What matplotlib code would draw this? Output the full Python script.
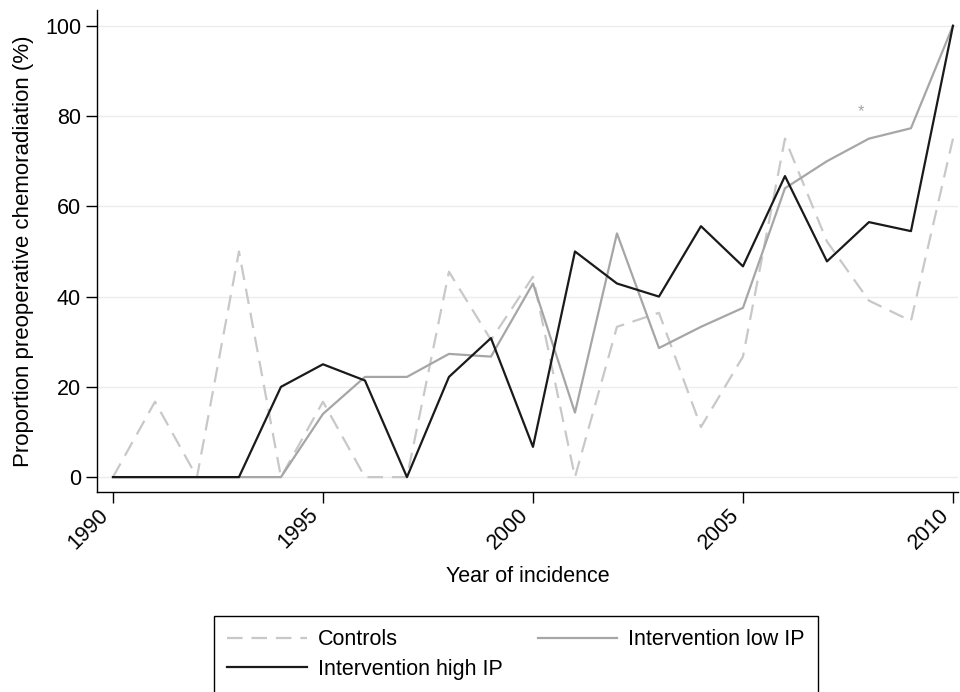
import matplotlib
matplotlib.use("Agg")
import matplotlib.pyplot as plt

plt.rcParams['font.family'] = ['Liberation Sans', 'DejaVu Sans']

years = list(range(1990, 2011))
controls = [0, 16.7, 0, 50, 0, 16.7, 0, 0, 45.5, 30.4, 44.4, 0, 33.3, 36.4, 11.1, 26.7, 75, 52.2, 39.1, 34.6, 75]
low_ip = [0, 0, 0, 0, 0, 14.0, 22.2, 22.2, 27.3, 26.7, 42.9, 14.3, 54.0, 28.6, 33.3, 37.5, 64.0, 70.0, 75.0, 77.3, 100]
high_ip = [0, 0, 0, 0, 20, 25, 21.4, 0, 22.2, 30.8, 6.7, 50, 42.9, 40, 55.6, 46.7, 66.7, 47.8, 56.5, 54.5, 100]
labels = ["Controls", "Intervention low IP", "Intervention high IP"]
xticks = [1990, 1995, 2000, 2005, 2010]
yticks = [0, 20, 40, 60, 80, 100]
star_pos = (2007.8, 81)

FS = 15.5

fig = plt.figure(figsize=(9.6, 6.92), dpi=100)
ax = fig.add_axes([97/960, 1-492/692, (958-97)/960, (492-10)/692])

for y in yticks:
    ax.axhline(y, color='#ececec', lw=1.0, zorder=0)

l1, = ax.plot(years, controls, color='#c8c8c8', lw=1.6, linestyle=(0, (7, 4)), label=labels[0])
l2, = ax.plot(years, low_ip, color='#a6a6a6', lw=1.6, label=labels[1])
l3, = ax.plot(years, high_ip, color='#1a1a1a', lw=1.6, label=labels[2])
ax.text(star_pos[0], star_pos[1], '*', color='#a6a6a6', fontsize=12, ha='center', va='center')

ax.set_xlim(1989.62, 2010.12)
ax.set_ylim(-3.3, 103.5)
ax.set_xticks(xticks)
ax.set_yticks(yticks)
ax.set_xticklabels([str(x) for x in xticks], rotation=45, ha='right', rotation_mode='default')
ax.tick_params(axis='both', labelsize=FS, length=8, width=1, direction='out', colors='black')
ax.tick_params(axis='x', pad=1)
ax.spines['top'].set_visible(False)
ax.spines['right'].set_visible(False)
ax.spines['left'].set_linewidth(1)
ax.spines['bottom'].set_linewidth(1)
ax.set_xlabel("Year of incidence", fontsize=FS, labelpad=9)
ax.set_ylabel("Proportion preoperative chemoradiation (%)", fontsize=FS + 0.5, labelpad=8)

leg = fig.legend(handles=[l1, l3, l2], labels=[labels[0], labels[2], labels[1]], ncol=2,
                 loc='upper left', bbox_to_anchor=(214/960, 1-616/692), fontsize=FS,
                 handlelength=3.7, handletextpad=0.5, columnspacing=1.63,
                 labelspacing=0.4, borderpad=0.62, borderaxespad=0, fancybox=False,
                 frameon=True, edgecolor='black', framealpha=1)
leg.get_frame().set_linewidth(1)

fig.savefig("out.png", dpi=100)
